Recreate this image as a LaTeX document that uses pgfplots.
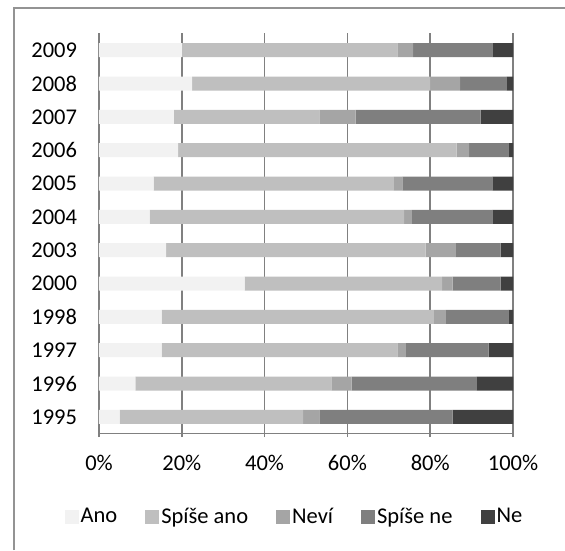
\documentclass[border=0pt]{standalone}
\usepackage{pgfplots}
\pgfplotsset{compat=1.18}
\usepackage{fontspec}
\setmainfont{Carlito}
\definecolor{cAno}{HTML}{F2F2F2}
\definecolor{cSA}{HTML}{BFBFBF}
\definecolor{cNevi}{HTML}{A5A5A5}
\definecolor{cSN}{HTML}{7F7F7F}
\definecolor{cNe}{HTML}{404040}
\definecolor{gridc}{HTML}{808080}
\begin{document}
\begin{tikzpicture}
\useasboundingbox (0,0) rectangle (565pt,550pt);
\draw[color=gridc!85, line width=1.4pt] (14pt,0) -- (14pt,542pt) -- (565pt,542pt);
\begin{axis}[
  at={(99pt,116.5pt)}, anchor=south west,
  scale only axis, width=414pt, height=400pt,
  xbar stacked, bar width=14pt,
  xmin=0, xmax=100, ymin=-0.5, ymax=11.5,
  xtick={0,20,40,60,80,100},
  xticklabels={0\%,20\%,40\%,60\%,80\%,100\%},
  ytick={0,...,11},
  yticklabels={1995,1996,1997,1998,2000,2003,2004,2005,2006,2007,2008,2009},
  minor ytick={-0.5,0.5,...,11.5},
  ytick style={draw=none},
  tick align=outside,
  major tick length=7pt, minor tick length=7pt,
  every tick/.style={color=gridc, line width=1.5pt},
  axis lines=left, axis line style={-, color=gridc, line width=1.5pt},
  xmajorgrids, grid style={color=gridc, line width=1.5pt},
  tick label style={font=\fontsize{22.5}{26}\selectfont, color=black},
  yticklabel style={xshift=-15pt},
  xticklabel style={yshift=-15pt},
  legend columns=5,
  legend style={at={(0.472,-0.2075)}, anchor=center, draw=none,
    font=\fontsize{22.5}{26}\selectfont,
    /tikz/every even column/.append style={column sep=26pt}},
  legend image code/.code={\fill[#1] (0pt,-7pt) rectangle (14pt,7pt);},
]
\addplot[fill=cAno, draw=none] coordinates {(5.0,0) (8.8,1) (15.1,2) (15.1,3) (35.2,4) (16.2,5) (12.2,6) (13.2,7) (19.1,8) (18.1,9) (22.5,10) (20.0,11)};
\addplot[fill=cSA, draw=none] coordinates {(44.3,0) (47.3,1) (57.0,2) (65.8,3) (47.7,4) (62.7,5) (61.5,6) (58.0,7) (67.3,8) (35.1,9) (57.5,10) (52.1,11)};
\addplot[fill=cNevi, draw=none] coordinates {(3.9,0) (4.9,1) (2.0,2) (2.9,3) (2.5,4) (7.3,5) (1.9,6) (2.1,7) (3.0,8) (8.8,9) (7.2,10) (3.8,11)};
\addplot[fill=cSN, draw=none] coordinates {(32.2,0) (30.3,1) (20.0,2) (15.1,3) (11.6,4) (10.8,5) (19.4,6) (21.7,7) (9.5,8) (30.2,9) (11.3,10) (19.1,11)};
\addplot[fill=cNe, draw=none] coordinates {(14.6,0) (8.7,1) (5.9,2) (1.1,3) (3.0,4) (3.0,5) (5.0,6) (5.0,7) (1.1,8) (7.8,9) (1.5,10) (5.0,11)};
\legend{Ano,Spíše ano,Neví,Spíše ne,Ne}
\end{axis}
\end{tikzpicture}
\end{document}
